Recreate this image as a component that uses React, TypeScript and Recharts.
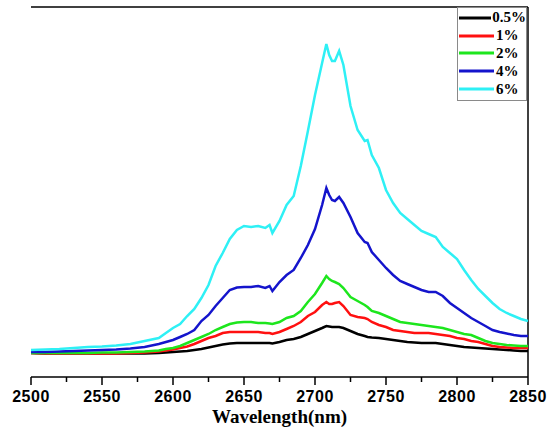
import React from "react";
import {
  LineChart,
  Line,
  XAxis,
  YAxis,
  Legend,
  ReferenceLine,
  Label,
} from "recharts";

const wavelengths = [
  2500, 2510, 2520, 2530, 2540, 2550, 2560, 2570, 2580, 2590,
  2595, 2600, 2605, 2610, 2615, 2620, 2625, 2630, 2635, 2640, 2645, 2650, 2655, 2660, 2665,
  2668, 2670, 2675, 2680, 2685, 2690, 2695, 2700, 2705,
  2708, 2710, 2712, 2714, 2717,
  2720, 2725, 2730, 2735,
  2737,
  2740, 2745, 2750, 2755, 2760, 2765, 2770, 2775, 2780, 2785, 2790, 2795, 2800, 2805, 2810, 2815, 2820, 2825, 2830, 2835, 2840, 2845, 2850,
];

const conc05 = [
  24, 23.5, 23.5, 23.5, 23.5, 23.5, 23.5, 23.5, 23.5, 24,
  24.5, 25, 25.5, 26, 27, 28, 29.5, 31, 32.5, 33.5, 34, 34, 34, 34, 34,
  34, 33.5, 35, 37, 38, 40, 43, 46, 49,
  51, 50.5, 50, 50, 50,
  49, 46, 43, 41,
  40,
  39.5, 39, 38, 37, 36, 35, 34.5, 34, 34, 34, 33, 32, 31, 30, 29.5, 29, 28.5, 28, 27.5, 27, 26.5, 26, 26,
];

const conc1 = [
  24, 23.5, 23.5, 23.5, 23.5, 23.5, 23.5, 24, 24.5, 25.5,
  26.5, 27.5, 29, 30.5, 33, 36, 39, 41, 44, 45, 45, 45, 45, 45, 44,
  44, 43, 45, 48, 51, 55, 61, 65, 72,
  75, 73, 73, 74, 75,
  71, 62, 60, 59,
  58,
  55, 52, 50, 47, 46, 45, 44, 44, 44, 43, 42, 41, 39, 38, 36, 35, 33, 31, 30, 29.5, 29, 29, 29,
];

const conc2 = [
  24, 24, 24, 24, 24, 24.5, 24.5, 25, 25.5, 26.5,
  28, 29, 31, 34, 37, 40, 43, 47, 50, 53, 54.5, 55, 55, 54, 54,
  53.5, 53, 55, 59, 61, 66, 75, 83, 94,
  101, 98, 96, 95, 93,
  89, 80, 76, 72,
  70,
  66, 64, 61, 58, 55, 54, 53, 52, 51, 50, 49, 47, 45, 43, 42, 39, 36, 34, 33, 32, 31.5, 31, 31,
];

const conc4 = [
  25, 25, 25.5, 26, 26.5, 27, 27.5, 28.5, 30, 33,
  35, 37, 40, 43, 47, 56, 62, 71, 79, 87, 89.5, 90, 90, 91, 89,
  91, 86, 95, 102, 107, 119, 132, 148, 172,
  189, 182, 177, 176, 180,
  174, 160, 144, 135,
  134,
  125, 117, 109, 102, 96, 93, 90, 87, 85, 85, 81, 74, 69, 64, 59, 55, 51, 47, 45, 43.5, 42, 41, 41,
];

const conc6 = [
  27, 27.5, 28, 29, 30, 30.5, 31.5, 33, 36, 39,
  44, 49, 53, 61, 68, 79, 92, 111, 124, 138, 147, 151, 150, 151, 149,
  152, 144, 156, 172, 181, 211, 246, 282, 314,
  333, 322, 316, 316, 326,
  312, 271, 247, 236,
  237,
  222, 209, 187, 174, 164, 158, 152, 146, 143, 140, 130, 124, 118, 107, 97, 88, 81, 74, 68, 64, 61, 58, 56,
];

const xTicks = [
  2500, 2525, 2550, 2575, 2600, 2625, 2650, 2675, 2700, 2725, 2750, 2775, 2800, 2825, 2850,
];

const series = [
  { key: "c05", name: "0.5%", color: "#000000", values: conc05 },
  { key: "c1", name: "1%", color: "#ff1010", values: conc1 },
  { key: "c2", name: "2%", color: "#1de61d", values: conc2 },
  { key: "c4", name: "4%", color: "#1414cc", values: conc4 },
  { key: "c6", name: "6%", color: "#2ef0f5", values: conc6 },
];

const data = wavelengths.map((w, i) => {
  const row: Record<string, number> = { wl: w };
  series.forEach((s) => {
    row[s.key] = s.values[i];
  });
  return row;
});

const serif = "'Liberation Serif', 'Times New Roman', serif";
const sans = "'Liberation Sans', Arial, sans-serif";

function XTick(props: any) {
  const { x, y, payload } = props;
  const major = payload.value % 50 === 0;
  return (
    <g>
      <line x1={x} x2={x} y1={y} y2={y + (major ? 8 : 5)} stroke="#000" strokeWidth={1.5} />
      {major && (
        <text
          x={x}
          y={y + 25}
          textAnchor="middle"
          fontFamily={sans}
          fontWeight="bold"
          fontSize={16}
          letterSpacing={0.5}
          fill="#000"
        >
          {payload.value}
        </text>
      )}
    </g>
  );
}

function LegendBox(props: any) {
  const { payload } = props;
  return (
    <div
      style={{
        border: "1px solid #8a8a8a",
        background: "#fff",
        padding: "1px 0 2px 0",
        width: 70,
        boxSizing: "border-box",
      }}
    >
      {payload.map((p: any) => (
        <div
          key={p.value}
          style={{ display: "flex", alignItems: "center", height: 17.8 }}
        >
          <svg width={36} height={6} style={{ marginLeft: 1 }}>
            <line x1={0} x2={35} y1={3} y2={3} stroke={p.color} strokeWidth={3} />
          </svg>
          <span
            style={{
              fontFamily: serif,
              fontWeight: "bold",
              fontSize: 15,
              color: "#000",
              marginLeft: 1,
              lineHeight: "15px",
            }}
          >
            {p.value}
          </span>
        </div>
      ))}
    </div>
  );
}

export default function App() {
  return (
    <div style={{ position: "absolute", left: 0, top: 0, background: "#fff" }}>
      <LineChart
        width={550}
        height={431}
        data={data}
        margin={{ top: 7, right: 22, left: 31, bottom: 0 }}
      >
        <XAxis
          dataKey="wl"
          type="number"
          domain={[2500, 2850]}
          ticks={xTicks}
          interval={0}
          height={54}
          tickSize={0}
          tickMargin={0}
          tickLine={false}
          tick={<XTick />}
          axisLine={{ stroke: "#000", strokeWidth: 1.5 }}
        >
          <Label
            content={(p: any) => {
              const vb = p.viewBox;
              return (
                <text
                  x={vb.x + vb.width / 2}
                  y={vb.y + 46}
                  textAnchor="middle"
                  fontFamily={serif}
                  fontWeight="bold"
                  fontSize={19}
                  fill="#000"
                >
                  Wavelength(nm)
                </text>
              );
            }}
          />
        </XAxis>
        <YAxis
          type="number"
          domain={[0, 370]}
          width={0}
          tick={false}
          tickLine={false}
          axisLine={{ stroke: "#000", strokeWidth: 1.5 }}
        >
          <Label
            content={(p: any) => {
              const vb = p.viewBox;
              const cy = vb.y + vb.height / 2;
              return (
                <text
                  x={12}
                  y={cy}
                  transform={`rotate(-90 12 ${cy})`}
                  textAnchor="middle"
                  dominantBaseline="central"
                  fontFamily={serif}
                  fontWeight="bold"
                  fontSize={17}
                  fill="#000"
                >
                  Intensity(a.u)
                </text>
              );
            }}
          />
        </YAxis>
        <ReferenceLine y={370} stroke="#000" strokeWidth={1.5} />
        <ReferenceLine x={2850} stroke="#000" strokeWidth={1.5} />
        {series.map((s) => (
          <Line
            key={s.key}
            type="linear"
            dataKey={s.key}
            name={s.name}
            stroke={s.color}
            strokeWidth={2.5}
            dot={false}
            activeDot={false}
            isAnimationActive={false}
          />
        ))}
        <Legend
          layout="horizontal"
          verticalAlign="middle"
          align="center"
          content={<LegendBox />}
          wrapperStyle={{ left: 457, top: 7, width: 70 }}
        />
      </LineChart>
    </div>
  );
}
